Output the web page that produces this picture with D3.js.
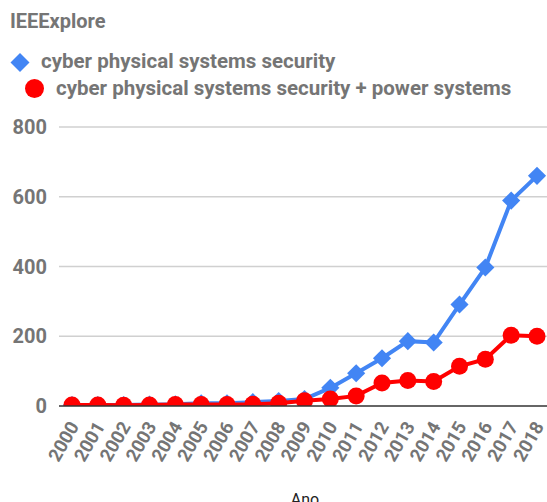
<!DOCTYPE html>
<html>
<head>
<meta charset="utf-8">
<script src="https://cdn.jsdelivr.net/npm/d3@7"></script>
<style>
  body { margin: 0; background: #fff; }
  svg { font-family: Roboto, sans-serif; }
</style>
</head>
<body>
<svg width="547" height="502"></svg>
<script>
const years = ["2000","2001","2002","2003","2004","2005","2006","2007","2008","2009",
               "2010","2011","2012","2013","2014","2015","2016","2017","2018"];
const cpsSecurity = [3, 3, 3, 4, 5, 8, 8, 11, 14, 20, 52, 94, 137, 186, 182, 291, 397, 589, 660];
const cpsPower =    [3, 3, 2, 3, 4, 4, 4, 5, 8, 15, 20, 29, 66, 73, 70, 114, 134, 203, 200];
const yTicks = [0, 200, 400, 600, 800];

const svg = d3.select("svg");
const width = +svg.attr("width");
const height = +svg.attr("height");
const margin = { top: 127, right: 10, bottom: 96, left: 72 };
const grey = "#757575";

const x = d3.scalePoint()
    .domain(years)
    .range([margin.left, width - margin.right]);

const y = d3.scaleLinear()
    .domain([0, 800])
    .range([height - margin.bottom, margin.top]);

// gridlines
svg.append("g")
    .selectAll("line")
    .data(yTicks.filter(d => d > 0))
    .enter().append("line")
    .attr("x1", 59)
    .attr("x2", width)
    .attr("y1", d => y(d))
    .attr("y2", d => y(d))
    .attr("stroke", "#d0d0d0")
    .attr("stroke-width", 1.5);

// y labels
svg.append("g")
    .selectAll("text")
    .data(yTicks)
    .enter().append("text")
    .attr("x", 47)
    .attr("y", d => y(d) + 7)
    .attr("text-anchor", "end")
    .style("font-size", "20px")
    .style("font-weight", "bold")
    .style("fill", grey)
    .text(d => d);

// clip the plot at the baseline
svg.append("defs").append("clipPath")
    .attr("id", "plot")
    .append("rect")
    .attr("x", 0)
    .attr("y", 0)
    .attr("width", width)
    .attr("height", y(0));

const plot = svg.append("g").attr("clip-path", "url(#plot)");

const line = d3.line()
    .x((d, i) => x(years[i]))
    .y(d => y(d));

plot.append("path")
    .datum(cpsSecurity)
    .attr("fill", "none")
    .attr("stroke", "#4285f4")
    .attr("stroke-width", 4)
    .attr("d", line);

plot.selectAll(".diamond")
    .data(cpsSecurity)
    .enter().append("path")
    .attr("class", "diamond")
    .attr("d", d3.symbol().type(d3.symbolDiamond2).size(210))
    .attr("transform", (d, i) => `translate(${x(years[i])},${y(d)})`)
    .attr("fill", "#4285f4");

plot.append("path")
    .datum(cpsPower)
    .attr("fill", "none")
    .attr("stroke", "#ff0000")
    .attr("stroke-width", 4)
    .attr("d", line);

plot.selectAll(".dot")
    .data(cpsPower)
    .enter().append("circle")
    .attr("class", "dot")
    .attr("cx", (d, i) => x(years[i]))
    .attr("cy", d => y(d))
    .attr("r", 8.5)
    .attr("fill", "#ff0000");

// baseline
svg.append("line")
    .attr("x1", 59)
    .attr("x2", width)
    .attr("y1", y(0))
    .attr("y2", y(0))
    .attr("stroke", "#333")
    .attr("stroke-width", 1.5);

// x labels
svg.append("g")
    .selectAll("text")
    .data(years)
    .enter().append("text")
    .attr("transform", d => `translate(${x(d) + 2},${y(0) + 17}) rotate(-60)`)
    .attr("text-anchor", "end")
    .attr("dy", "0.35em")
    .style("font-size", "18.5px")
    .style("font-weight", "bold")
    .style("fill", grey)
    .text(d => d);

// axis title
svg.append("text")
    .attr("x", 305)
    .attr("y", 505)
    .attr("text-anchor", "middle")
    .style("font-size", "16px")
    .style("fill", "#222")
    .text("Ano");

// title
svg.append("text")
    .attr("x", 10)
    .attr("y", 28)
    .style("font-size", "20px")
    .style("font-weight", "bold")
    .style("fill", grey)
    .text("IEEExplore");

// legend
const legend = svg.append("g");
legend.append("path")
    .attr("d", d3.symbol().type(d3.symbolDiamond2).size(230))
    .attr("transform", "translate(20,62.5)")
    .attr("fill", "#4285f4");
legend.append("text")
    .attr("x", 41)
    .attr("y", 68)
    .style("font-size", "20.5px")
    .style("font-weight", "bold")
    .style("fill", grey)
    .text("cyber physical systems security");
legend.append("circle")
    .attr("cx", 34.5)
    .attr("cy", 88.5)
    .attr("r", 9.5)
    .attr("fill", "#ff0000");
legend.append("text")
    .attr("x", 56)
    .attr("y", 95)
    .style("font-size", "20.5px")
    .style("font-weight", "bold")
    .style("fill", grey)
    .text("cyber physical systems security + power systems");
</script>
</body>
</html>
